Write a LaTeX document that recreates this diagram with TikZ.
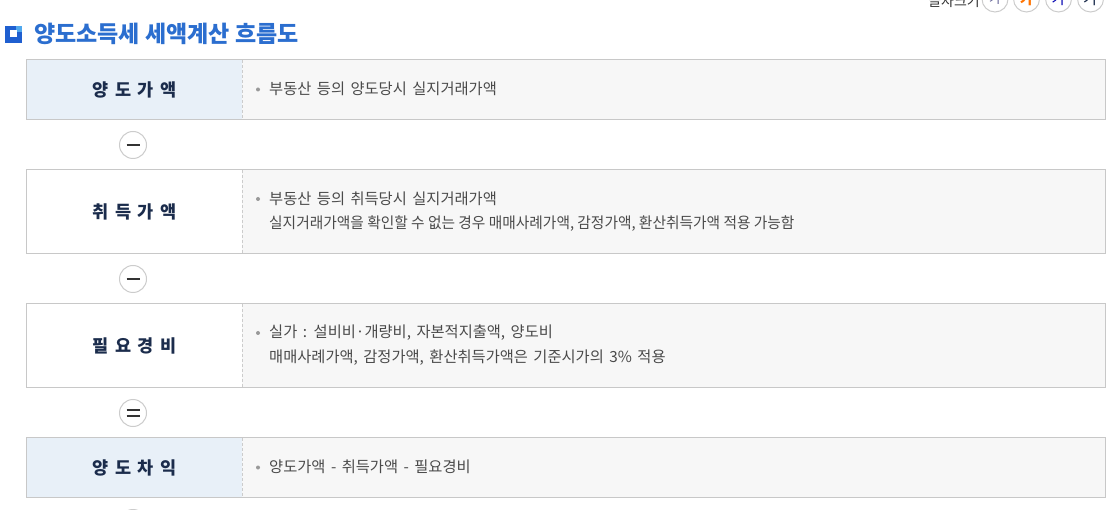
\documentclass[tikz,border=0pt]{standalone}
\usepackage{fontspec}
\setmainfont{Noto Sans CJK KR}
\definecolor{bordc}{HTML}{C8C8C8}
\definecolor{divc}{HTML}{CCCCCC}
\definecolor{lblue}{HTML}{E8F0F8}
\definecolor{rgray}{HTML}{F7F7F7}
\definecolor{navy}{HTML}{1B2C4C}
\definecolor{bodyc}{HTML}{4A4A4A}
\definecolor{titleb}{HTML}{2B6ECF}
\definecolor{iconb}{HTML}{1F5FD0}
\definecolor{iconl}{HTML}{4FA8EE}
\newcommand{\lsp}{\hspace{6.5pt}}
\newcommand{\bodyfnt}{\fontsize{15.3}{25}\selectfont}
\newcommand{\wsp}{\spaceskip=5.5pt\relax}
\begin{document}
\begin{tikzpicture}[x=1pt,y=-1pt,
  leftcell/.style={inner sep=0, minimum width=215pt},
  rightcell/.style={fill=rgray, inner sep=0, minimum width=863pt},
  frame/.style={draw=bordc, line width=1pt},
  divider/.style={draw=divc, line width=0.8pt, dash pattern=on 3pt off 2pt},
  lbl/.style={text=navy, font=\fontsize{17.5}{20}\selectfont\bfseries, inner sep=0},
  body/.style={text=bodyc, font=\bodyfnt, inner sep=0, anchor=west, align=left},
  bul/.style={circle, fill=gray!80, inner sep=0, minimum size=4pt},
  opc/.style={circle, draw=divc, line width=1pt, fill=white, minimum size=27pt, inner sep=0},
  opbar/.style={draw=black!80, line width=2.6pt},
  sizec/.style={circle, draw=divc, line width=1pt, fill=white, minimum size=26pt, inner sep=0}
]
\useasboundingbox (0,0) rectangle (1113,510);
\clip (0,0) rectangle (1113,510);

% title
\fill[iconb] (5,26) rectangle (22,43);
\fill[iconl] (16,26) rectangle (22,32);
\fill[white] (9.5,30.5) rectangle (16.5,37.5);
\node[anchor=west, text=titleb, font=\fontsize{23}{26}\selectfont\bfseries, inner sep=0] (title) at (34,34) {양도소득세 세액계산 흐름도};

% top-right font size controls (cut off by the page edge)
\node[anchor=east, text=black!80, font=\fontsize{14}{16}\selectfont, inner sep=0] (fsz) at (980,1) {글자크기};
\node[sizec] (s1) at (995,-1) {};
\node[sizec] (s2) at (1026.5,-1) {};
\node[sizec] (s3) at (1058.5,-1) {};
\node[sizec] (s4) at (1090.5,-1) {};
\node[text=gray!80!blue, font=\fontsize{13}{14}\selectfont, inner sep=0] (g1) at (s1) {가};
\node[text=orange!90!red, font=\fontsize{14}{14}\selectfont\bfseries, inner sep=0] (g2) at (s2) {가};
\node[text=blue!70!black, font=\fontsize{15}{14}\selectfont, inner sep=0] (g3) at (s3) {가};
\node[text=navy, font=\fontsize{16}{14}\selectfont, inner sep=0] (g4) at (s4) {가};

% row 1
\node[leftcell, fill=lblue, minimum height=59pt] (l1) at (134.5,89.5) {};
\node[rightcell, minimum height=59pt, anchor=west] (r1) at (l1.east) {};
\draw[frame] (l1.north west) rectangle (r1.south east);
\draw[divider] (l1.north east) -- (l1.south east);
\node[lbl] (t1) at (l1) {양\lsp 도\lsp 가\lsp 액};
\node[bul] (b1) at (258,89.5) {};
\node[body] (d1) at (269,89) {\wsp 부동산 등의 양도당시 실지거래가액};

% op 1
\node[opc] (o1) at (133,145) {};
\draw[opbar] ([xshift=-6.5pt]o1.center) -- ([xshift=6.5pt]o1.center);

% row 2
\node[leftcell, fill=white, minimum height=83pt] (l2) at (134.5,211.5) {};
\node[rightcell, minimum height=83pt, anchor=west] (r2) at (l2.east) {};
\draw[frame] (l2.north west) rectangle (r2.south east);
\draw[divider] (l2.north east) -- (l2.south east);
\node[lbl] (t2) at (l2) {취\lsp 득\lsp 가\lsp 액};
\node[bul] (b2) at (258,199) {};
\node[body] (d2) at (269,199) {\wsp 부동산 등의 취득당시 실지거래가액};
\node[body] (e2) at (269,224) {\scalebox{0.962}[1]{실지거래가액을 확인할 수 없는 경우 매매사례가액, 감정가액, 환산취득가액 적용 가능함}};

% op 2
\node[opc] (o2) at (133,279) {};
\draw[opbar] ([xshift=-6.5pt]o2.center) -- ([xshift=6.5pt]o2.center);

% row 3
\node[leftcell, fill=white, minimum height=83pt] (l3) at (134.5,345.5) {};
\node[rightcell, minimum height=83pt, anchor=west] (r3) at (l3.east) {};
\draw[frame] (l3.north west) rectangle (r3.south east);
\draw[divider] (l3.north east) -- (l3.south east);
\node[lbl] (t3) at (l3) {필\lsp 요\lsp 경\lsp 비};
\node[bul] (b3) at (258,333) {};
\node[body] (d3) at (269,333) {\wsp 실가 : 설비비·개량비, 자본적지출액, 양도비};
\node[body] (e3) at (269,358) {\wsp 매매사례가액, 감정가액, 환산취득가액은 기준시가의 3\% 적용};

% op 3 (equals)
\node[opc] (o3) at (133,413) {};
\draw[opbar, line width=2.3pt] ([xshift=-6.5pt,yshift=-3.2pt]o3.center) -- ([xshift=6.5pt,yshift=-3.2pt]o3.center);
\draw[opbar, line width=2.3pt] ([xshift=-6.5pt,yshift=3.2pt]o3.center) -- ([xshift=6.5pt,yshift=3.2pt]o3.center);

% row 4
\node[leftcell, fill=lblue, minimum height=59pt] (l4) at (134.5,467.5) {};
\node[rightcell, minimum height=59pt, anchor=west] (r4) at (l4.east) {};
\draw[frame] (l4.north west) rectangle (r4.south east);
\draw[divider] (l4.north east) -- (l4.south east);
\node[lbl] (t4) at (l4) {양\lsp 도\lsp 차\lsp 익};
\node[bul] (b4) at (258,467.5) {};
\node[body] (d4) at (269,467) {\wsp 양도가액 - 취득가액 - 필요경비};

% op 4 (cut off by the page edge)
\node[opc] (o4) at (133,523) {};
\end{tikzpicture}
\end{document}
